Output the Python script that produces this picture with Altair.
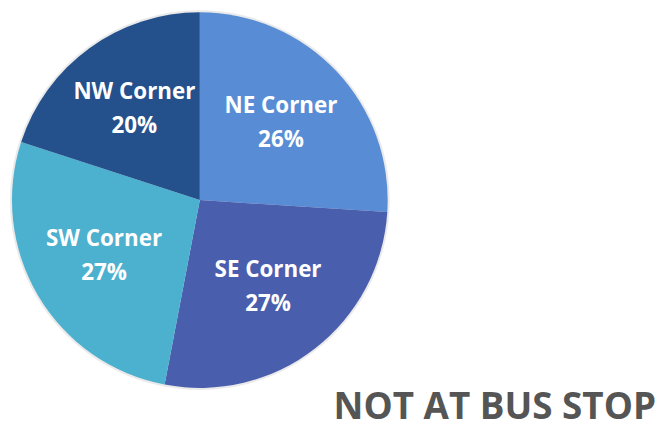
import altair as alt
import pandas as pd

regions = ["NE Corner", "SE Corner", "SW Corner", "NW Corner"]
shares = [26, 27, 27, 20]
order = [1, 2, 3, 4]
colors = ["#588dd5", "#4a5eae", "#4cb0cf", "#24508c"]
title_text = "NOT AT BUS STOP"

df = pd.DataFrame({
    "region": regions,
    "share": shares,
    "order": order,
    "label": [f"{r}\n{s}%" for r, s in zip(regions, shares)],
})

base = alt.Chart(df).encode(
    theta=alt.Theta("share:Q", stack=True),
    order=alt.Order("order:Q", sort="ascending"),
    x=alt.value(193),
    y=alt.value(192),
)

shadow = base.mark_arc(outerRadius=191, color="#dcdcdc", opacity=0.6)

arcs = base.mark_arc(outerRadius=189).encode(
    color=alt.Color("region:N", scale=alt.Scale(domain=regions, range=colors), legend=None),
)

labels = base.mark_text(
    radius=112, font="Open Sans", fontWeight="bold", fontSize=22.5,
    color="white", lineBreak="\n", lineHeight=34, align="center", baseline="middle",
    dy=-18,
).encode(text="label:N")

chart = alt.layer(shadow, arcs, labels).properties(
    width=648,
    height=372,
    padding=0,
    autosize=alt.AutoSizeParams(type="pad"),
    title=alt.TitleParams(
        title_text, orient="bottom", anchor="end", font="Open Sans",
        fontWeight="bold", fontSize=37, color="#555555", offset=0, dx=4,
        baseline="alphabetic", dy=29,
    ),
).configure_view(stroke=None)

chart.save("out.html", embed_options={"renderer": "svg", "actions": False})
